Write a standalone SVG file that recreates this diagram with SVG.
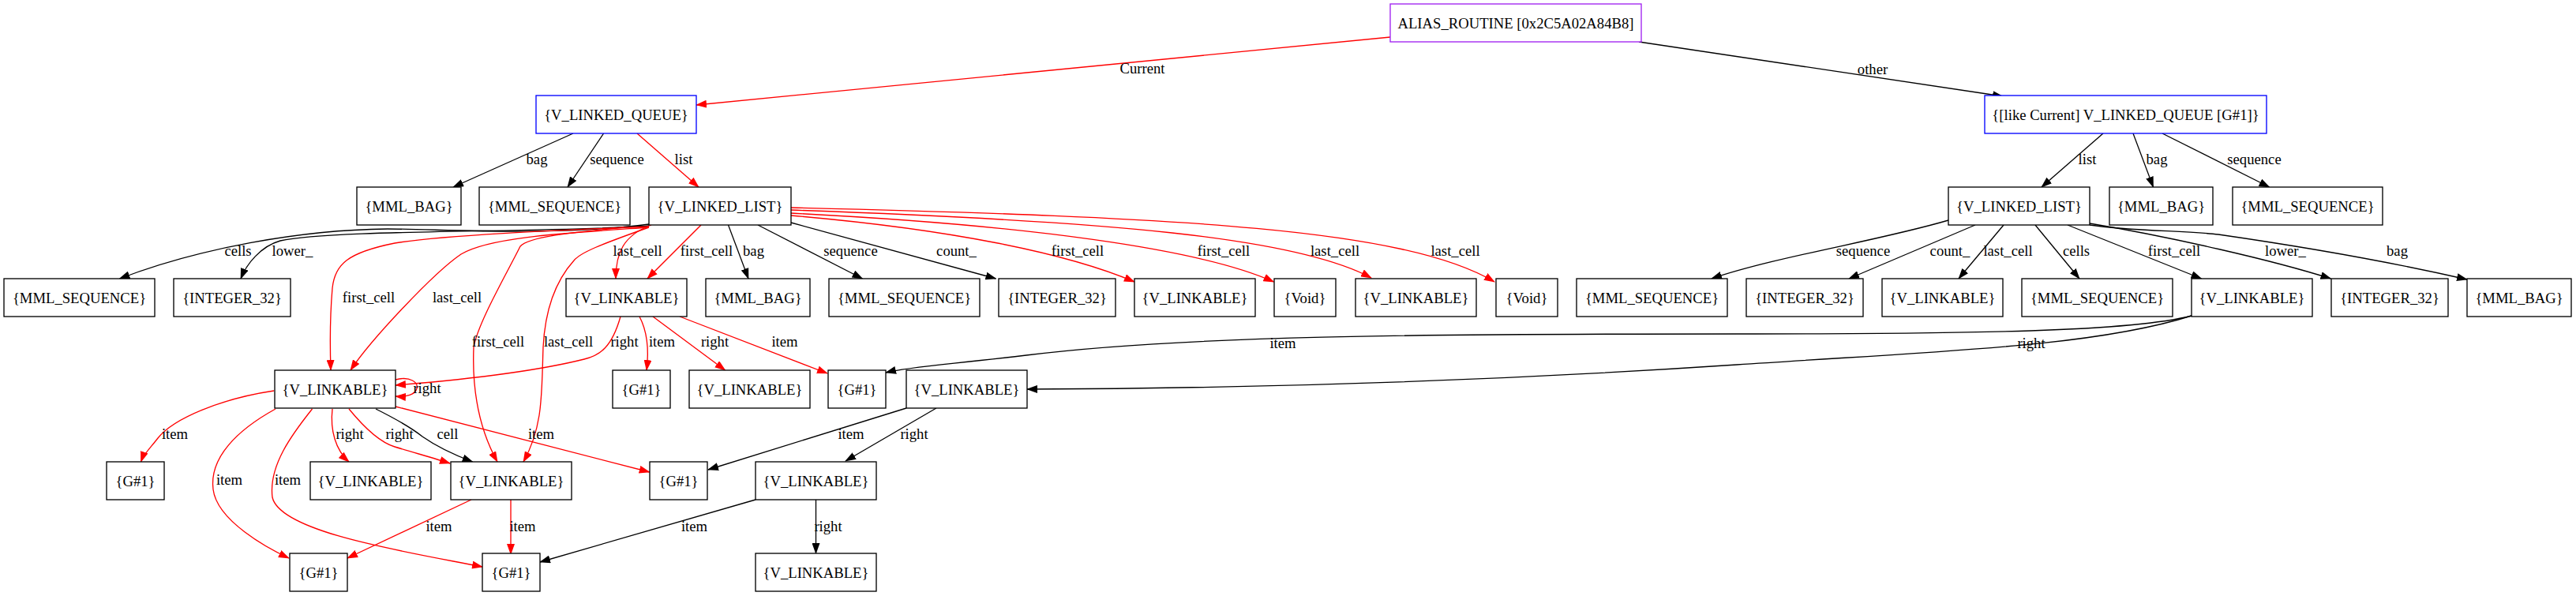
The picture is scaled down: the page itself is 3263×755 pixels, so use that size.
<svg xmlns="http://www.w3.org/2000/svg" width="3263" height="755" viewBox="0 0 3263 755">
<style>
.n rect{fill:#fff;stroke:#000;stroke-width:1.33}
text{font-family:"Liberation Serif","Times New Roman",serif;font-size:18.67px;text-anchor:middle;fill:#000}
.e path{fill:none;stroke-width:1.33}
.e .k{stroke:#000;marker-end:url(#ak)}
.e .r{stroke:#f00;marker-end:url(#ar)}
</style>
<defs>
<marker id="ak" markerUnits="userSpaceOnUse" markerWidth="14" markerHeight="10" viewBox="0 0 14 10" refX="13" refY="5" orient="auto"><path d="M0,0 L14,5 L0,10 z" fill="#000"/></marker>
<marker id="ar" markerUnits="userSpaceOnUse" markerWidth="14" markerHeight="10" viewBox="0 0 14 10" refX="13" refY="5" orient="auto"><path d="M0,0 L14,5 L0,10 z" fill="#f00"/></marker>
</defs>
<rect width="3263" height="755" fill="#fff"/>
<g id="edges" class="e">
<path class="r" d="M1761,47 L882,133"/>
<path class="k" d="M2076,53 L2537,122"/>
<path class="k" d="M726,169 L574,237"/>
<path class="k" d="M764.6,169 L719,237"/>
<path class="r" d="M807,169 L885,237"/>
<path class="k" d="M2664,169 L2586,237"/>
<path class="k" d="M2702,169 L2727.5,237"/>
<path class="k" d="M2739,169 L2874.6,237"/>
<path class="k" d="M822,284 C700,300 560,290 491,290 C380,291 250,315 151.5,353"/>
<path class="k" d="M822,286 C700,295 420,290 355,305 C330,312 312,335 305,353"/>
<path class="r" d="M822,287 C700,292 560,298 500,308 C440,320 424,335 421,365 C418,400 418,440 419,469"/>
<path class="r" d="M822,288 C720,295 620,300 584,322 C550,345 470,430 444,469"/>
<path class="r" d="M790,288 C720,295 670,300 659,312 C640,350 605,410 600,440 C598,490 605,540 630,585"/>
<path class="r" d="M822,288 C760,310 735,320 727,330 C700,360 690,400 688,440 C686,500 688,540 663,585"/>
<path class="r" d="M825,285 C790,298 780,320 780,353"/>
<path class="r" d="M888,285 L820,353"/>
<path class="k" d="M922.5,285 L948,353"/>
<path class="k" d="M960,285 L1092.5,353"/>
<path class="k" d="M1002,282 L1261.5,353"/>
<path class="r" d="M1002,273 C1200,290 1350,320 1437,357"/>
<path class="r" d="M1002,270 C1300,285 1520,315 1613.5,357"/>
<path class="r" d="M1002,266 C1400,280 1640,300 1737,352"/>
<path class="r" d="M1002,263 C1500,275 1780,290 1893,357"/>
<path class="r" d="M786,401 C775,440 760,450 740,455 C680,470 600,480 501,488"/>
<path class="r" d="M810,401 C820,420 822,445 819,469"/>
<path class="r" d="M827,401 L918.6,469"/>
<path class="r" d="M861,401 L1048,473"/>
<path class="r" d="M501,481 C520,476 530,485 528,492 C526,500 515,503 501,502"/>
<path class="r" d="M347,495 C280,505 220,530 200,555 C190,568 182,575 178.5,585"/>
<path class="r" d="M349,518 C300,545 265,580 270,620 C275,660 340,695 366,707"/>
<path class="r" d="M395.5,518 C370,550 340,590 345,630 C355,675 520,700 611,718"/>
<path class="r" d="M421,518 C418,545 425,570 442,585"/>
<path class="r" d="M442,518 C460,540 480,560 500,566 C530,575 555,582 570,587"/>
<path class="k" d="M476,518 C510,535 525,545 535,553 C555,567 580,578 598.6,585"/>
<path class="r" d="M501,515 L822.7,598"/>
<path class="r" d="M597,633 L440,707"/>
<path class="r" d="M647,633 L647,702"/>
<path class="k" d="M1148,517 L897,595"/>
<path class="k" d="M1186,517 L1071,584"/>
<path class="k" d="M957,633 L684,712"/>
<path class="k" d="M1033.5,633 L1033.5,701"/>
<path class="k" d="M2776,400 C2700,420 2500,423 2200,423 C1800,423 1500,425 1300,450 C1200,462 1150,465 1122,472"/>
<path class="k" d="M2776,400 C2650,440 2450,445 2200,462 C1900,482 1600,492 1301,493"/>
<path class="k" d="M2468,279 C2380,305 2250,325 2168,353"/>
<path class="k" d="M2502,285 L2342,353"/>
<path class="k" d="M2538,285 L2481,353"/>
<path class="k" d="M2578,285 L2634,353"/>
<path class="k" d="M2619,285 L2788.5,353"/>
<path class="k" d="M2647,283 C2750,300 2880,330 2952.5,353"/>
<path class="k" d="M2647,285 C2700,293 2770,292 2810,297 C2900,310 3020,330 3125,354"/>
<g id="edge-labels">
<text x="1447" y="93">Current</text>
<text x="2372" y="94">other</text>
<text x="680" y="208">bag</text>
<text x="781.5" y="208">sequence</text>
<text x="866" y="208">list</text>
<text x="2644" y="208">list</text>
<text x="2732" y="208">bag</text>
<text x="2855.5" y="208">sequence</text>
<text x="301.5" y="324">cells</text>
<text x="370.5" y="324">lower_</text>
<text x="467" y="383">first_cell</text>
<text x="579" y="383">last_cell</text>
<text x="631" y="439">first_cell</text>
<text x="720" y="439">last_cell</text>
<text x="807.5" y="324">last_cell</text>
<text x="895" y="324">first_cell</text>
<text x="954.5" y="324">bag</text>
<text x="1077.5" y="324">sequence</text>
<text x="1211.5" y="324">count_</text>
<text x="1365" y="324">first_cell</text>
<text x="1550" y="324">first_cell</text>
<text x="1691" y="324">last_cell</text>
<text x="1843.5" y="324">last_cell</text>
<text x="791" y="439">right</text>
<text x="838.5" y="439">item</text>
<text x="905.5" y="439">right</text>
<text x="994" y="439">item</text>
<text x="541" y="498">right</text>
<text x="221.5" y="556">item</text>
<text x="290.5" y="614">item</text>
<text x="364.5" y="614">item</text>
<text x="443" y="556">right</text>
<text x="506" y="556">right</text>
<text x="567" y="556">cell</text>
<text x="685.5" y="556">item</text>
<text x="556" y="673">item</text>
<text x="662" y="673">item</text>
<text x="1078" y="556">item</text>
<text x="1158" y="556">right</text>
<text x="879.5" y="673">item</text>
<text x="1049" y="673">right</text>
<text x="1625" y="441">item</text>
<text x="2573" y="441">right</text>
<text x="2360" y="324">sequence</text>
<text x="2470" y="324">count_</text>
<text x="2543.5" y="324">last_cell</text>
<text x="2630" y="324">cells</text>
<text x="2754" y="324">first_cell</text>
<text x="2895" y="324">lower_</text>
<text x="3036.5" y="324">bag</text>
</g>
</g>
<g id="n_alias" class="n"><rect x="1761" y="5" width="318" height="48" style="stroke:#a020f0"/><text x="1920" y="35.5">ALIAS_ROUTINE [0x2C5A02A84B8]</text></g>
<g id="n_queue" class="n"><rect x="679" y="121" width="203" height="48" style="stroke:#00f"/><text x="780.5" y="151.5">{V_LINKED_QUEUE}</text></g>
<g id="n_oqueue" class="n"><rect x="2514" y="121" width="357" height="48" style="stroke:#00f"/><text x="2692.5" y="151.5">{[like Current] V_LINKED_QUEUE [G#1]}</text></g>
<g id="n_bag1" class="n"><rect x="452" y="237" width="132" height="48"/><text x="518" y="267.5">{MML_BAG}</text></g>
<g id="n_seq1" class="n"><rect x="607" y="237" width="191" height="48"/><text x="702.5" y="267.5">{MML_SEQUENCE}</text></g>
<g id="n_list1" class="n"><rect x="822" y="237" width="180" height="48"/><text x="912" y="267.5">{V_LINKED_LIST}</text></g>
<g id="n_list2" class="n"><rect x="2468" y="237" width="179" height="48"/><text x="2557.5" y="267.5">{V_LINKED_LIST}</text></g>
<g id="n_bag2" class="n"><rect x="2672" y="237" width="131" height="48"/><text x="2737.5" y="267.5">{MML_BAG}</text></g>
<g id="n_seq2" class="n"><rect x="2828" y="237" width="190" height="48"/><text x="2923" y="267.5">{MML_SEQUENCE}</text></g>
<g id="n_seq3a" class="n"><rect x="5" y="353" width="191" height="48"/><text x="100.5" y="383.5">{MML_SEQUENCE}</text></g>
<g id="n_int3a" class="n"><rect x="220" y="353" width="148" height="48"/><text x="294" y="383.5">{INTEGER_32}</text></g>
<g id="n_lk3a" class="n"><rect x="717" y="353" width="153" height="48"/><text x="793.5" y="383.5">{V_LINKABLE}</text></g>
<g id="n_bag3a" class="n"><rect x="894" y="353" width="132" height="48"/><text x="960" y="383.5">{MML_BAG}</text></g>
<g id="n_seq3b" class="n"><rect x="1050" y="353" width="191" height="48"/><text x="1145.5" y="383.5">{MML_SEQUENCE}</text></g>
<g id="n_int3b" class="n"><rect x="1265" y="353" width="148" height="48"/><text x="1339" y="383.5">{INTEGER_32}</text></g>
<g id="n_lk3b" class="n"><rect x="1437" y="353" width="153" height="48"/><text x="1513.5" y="383.5">{V_LINKABLE}</text></g>
<g id="n_void1" class="n"><rect x="1614" y="353" width="78" height="48"/><text x="1653" y="383.5">{Void}</text></g>
<g id="n_lk3c" class="n"><rect x="1717" y="353" width="153" height="48"/><text x="1793.5" y="383.5">{V_LINKABLE}</text></g>
<g id="n_void2" class="n"><rect x="1895" y="353" width="78" height="48"/><text x="1934" y="383.5">{Void}</text></g>
<g id="n_seq3c" class="n"><rect x="1997" y="353" width="191" height="48"/><text x="2092.5" y="383.5">{MML_SEQUENCE}</text></g>
<g id="n_int3c" class="n"><rect x="2212" y="353" width="148" height="48"/><text x="2286" y="383.5">{INTEGER_32}</text></g>
<g id="n_lk3d" class="n"><rect x="2384" y="353" width="153" height="48"/><text x="2460.5" y="383.5">{V_LINKABLE}</text></g>
<g id="n_seq3d" class="n"><rect x="2561" y="353" width="191" height="48"/><text x="2656.5" y="383.5">{MML_SEQUENCE}</text></g>
<g id="n_lk3e" class="n"><rect x="2776" y="353" width="153" height="48"/><text x="2852.5" y="383.5">{V_LINKABLE}</text></g>
<g id="n_int3d" class="n"><rect x="2953" y="353" width="148" height="48"/><text x="3027" y="383.5">{INTEGER_32}</text></g>
<g id="n_bag3b" class="n"><rect x="3125" y="353" width="132" height="48"/><text x="3191" y="383.5">{MML_BAG}</text></g>
<g id="n_lk4a" class="n"><rect x="348" y="469" width="153" height="48"/><text x="424.5" y="499.5">{V_LINKABLE}</text></g>
<g id="n_g4a" class="n"><rect x="776" y="469" width="73" height="48"/><text x="812.5" y="499.5">{G#1}</text></g>
<g id="n_lk4b" class="n"><rect x="873" y="469" width="153" height="48"/><text x="949.5" y="499.5">{V_LINKABLE}</text></g>
<g id="n_g4b" class="n"><rect x="1049" y="469" width="73" height="48"/><text x="1085.5" y="499.5">{G#1}</text></g>
<g id="n_lk4c" class="n"><rect x="1148" y="469" width="153" height="48"/><text x="1224.5" y="499.5">{V_LINKABLE}</text></g>
<g id="n_g5a" class="n"><rect x="135" y="585" width="73" height="48"/><text x="171.5" y="615.5">{G#1}</text></g>
<g id="n_lk5a" class="n"><rect x="393" y="585" width="153" height="48"/><text x="469.5" y="615.5">{V_LINKABLE}</text></g>
<g id="n_lk5b" class="n"><rect x="571" y="585" width="153" height="48"/><text x="647.5" y="615.5">{V_LINKABLE}</text></g>
<g id="n_g5b" class="n"><rect x="823" y="585" width="73" height="48"/><text x="859.5" y="615.5">{G#1}</text></g>
<g id="n_lk5c" class="n"><rect x="957" y="585" width="153" height="48"/><text x="1033.5" y="615.5">{V_LINKABLE}</text></g>
<g id="n_g6a" class="n"><rect x="367" y="701" width="73" height="48"/><text x="403.5" y="731.5">{G#1}</text></g>
<g id="n_g6b" class="n"><rect x="611" y="701" width="73" height="48"/><text x="647.5" y="731.5">{G#1}</text></g>
<g id="n_lk6" class="n"><rect x="957" y="701" width="153" height="48"/><text x="1033.5" y="731.5">{V_LINKABLE}</text></g>
</svg>
